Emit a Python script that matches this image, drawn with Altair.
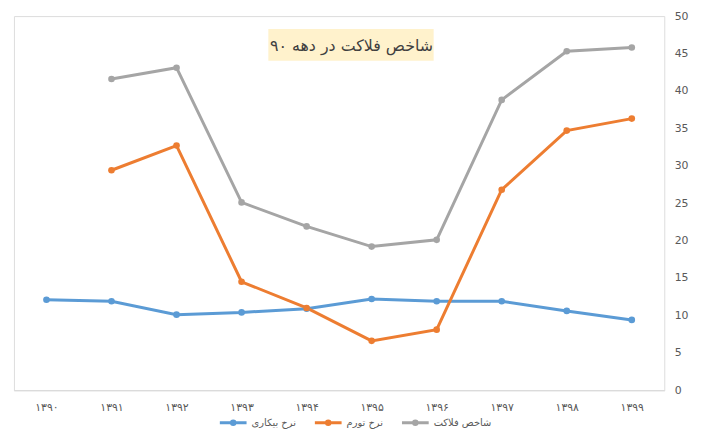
import altair as alt
import pandas as pd

# ---- data ----
years = ["۱۳۹۰", "۱۳۹۱", "۱۳۹۲", "۱۳۹۳", "۱۳۹۴", "۱۳۹۵", "۱۳۹۶", "۱۳۹۷", "۱۳۹۸", "۱۳۹۹"]
series_names = ["نرخ بیکاری", "نرخ تورم", "شاخص فلاکت"]
unemployment = [12.1, 11.9, 10.1, 10.4, 10.9, 12.2, 11.9, 11.9, 10.6, 9.4]
inflation = [None, 29.4, 32.7, 14.5, 11.0, 6.6, 8.1, 26.8, 34.7, 36.3]
misery = [None, 41.6, 43.1, 25.1, 21.9, 19.2, 20.1, 38.8, 45.3, 45.8]
colors = ["#5B9BD5", "#ED7D31", "#A5A5A5"]
y_ticks = [0, 5, 10, 15, 20, 25, 30, 35, 40, 45, 50]
title_text = "شاخص فلاکت در دهه ۹۰"

rows = []
for name, vals in zip(series_names, [unemployment, inflation, misery]):
    for yr, v in zip(years, vals):
        if v is not None:
            rows.append({"year": yr, "series": name, "value": v})
df = pd.DataFrame(rows)

FONT = "DejaVu Sans"
W, H = 657, 378

# line-with-dot legend symbol (drawn a bit wider than its layout box)
legend_symbol = "M-1.5,0H1.5M-0.2,0a0.2,0.2 0 1,0 0.4,0a0.2,0.2 0 1,0 -0.4,0"

lines = alt.Chart(df).mark_line(
    strokeWidth=3,
    point=alt.OverlayMarkDef(size=45, filled=True),
).encode(
    x=alt.X("year:N", sort=years,
            scale=alt.Scale(type="point", padding=0.5),
            axis=alt.Axis(title=None, labelAngle=0, ticks=False,
                          domainColor="#D9D9D9", domainWidth=1,
                          labelColor="#595959", labelFont=FONT,
                          labelFontSize=11, labelPadding=11)),
    y=alt.Y("value:Q",
            scale=alt.Scale(domain=[0, 50], nice=False),
            axis=alt.Axis(title=None, orient="right", values=y_ticks,
                          grid=False, domain=False, ticks=False,
                          labelColor="#595959", labelFont=FONT,
                          labelFontSize=11, labelPadding=10)),
    color=alt.Color("series:N",
                    scale=alt.Scale(domain=series_names, range=colors),
                    sort=series_names,
                    legend=alt.Legend(title=None, orient="none",
                                      legendX=211, legendY=400,
                                      direction="horizontal",
                                      symbolType=legend_symbol,
                                      symbolSize=324, symbolStrokeWidth=3,
                                      labelFont=FONT, labelFontSize=10,
                                      labelColor="#595959",
                                      columnPadding=13, labelOffset=8)),
)

title_df = pd.DataFrame([{"t": title_text}])
box = alt.Chart(title_df).mark_rect(color="#FFF2CC").encode(
    x=alt.value(257), x2=alt.value(424), y=alt.value(13), y2=alt.value(45)
)
label = alt.Chart(title_df).mark_text(
    font=FONT, fontSize=16, color="#404040", align="center", baseline="middle"
).encode(x=alt.value(341), y=alt.value(30), text="t:N")

chart = alt.layer(lines, box, label).properties(
    width=W, height=H,
    padding={"left": 6, "top": 0, "right": 5, "bottom": 0},
).configure_view(fill="#EDEDED", stroke=None).configure(background="white")

chart.save("out.html", embed_options={"renderer": "svg", "actions": False})
